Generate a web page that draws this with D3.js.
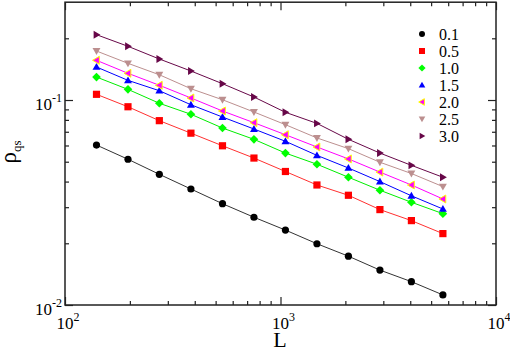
<!DOCTYPE html>
<html>
<head>
<meta charset="utf-8" />
<script src="https://cdnjs.cloudflare.com/ajax/libs/d3/7.8.5/d3.min.js"></script>
<style>
  body { margin: 0; background: #fff; }
  text { font-family: "Liberation Serif", "Times New Roman", serif; fill: #000; }
</style>
</head>
<body>
<svg id="chart" width="510" height="352"></svg>
<script>
  // system sizes L
  const sizes = [140, 196, 274, 384, 538, 753, 1054, 1476, 2066, 2893, 4050, 5670]
  const labels = ['0.1', '0.5', '1.0', '1.5', '2.0', '2.5', '3.0']
  const rho01 = [0.0603, 0.0514, 0.0434, 0.0368, 0.0312, 0.0268, 0.0232, 0.0199, 0.0173, 0.0148, 0.0130, 0.0112]
  const rho05 = [0.1066, 0.0927, 0.0793, 0.0689, 0.0598, 0.0521, 0.0448, 0.0385, 0.0343, 0.0292, 0.0258, 0.0223]
  const rho10 = [0.1294, 0.1127, 0.0964, 0.0852, 0.0730, 0.0643, 0.0551, 0.0486, 0.0420, 0.0363, 0.0317, 0.0279]
  const rho15 = [0.1449, 0.1247, 0.1110, 0.0948, 0.0826, 0.0722, 0.0629, 0.0537, 0.0466, 0.0400, 0.0341, 0.0294]
  const rho20 = [0.1562, 0.1350, 0.1180, 0.1023, 0.0884, 0.0775, 0.0677, 0.0590, 0.0516, 0.0445, 0.0385, 0.0329]
  const rho25 = [0.1734, 0.1510, 0.1328, 0.1135, 0.1003, 0.0874, 0.0758, 0.0653, 0.0579, 0.0497, 0.0438, 0.0378]
  const rho30 = [0.2083, 0.1828, 0.1585, 0.1385, 0.1201, 0.1034, 0.0871, 0.0769, 0.0643, 0.0551, 0.0480, 0.0420]
  const xMajor = [100, 1000, 10000]
  const yMajor = [0.01, 0.1]

  const series = [
    { name: labels[0], vals: rho01, color: '#000000', line: '#333333', sym: 'circle', stroke: 'none' },
    { name: labels[1], vals: rho05, color: '#ff0000', line: '#ff3030', sym: 'square', stroke: 'none' },
    { name: labels[2], vals: rho10, color: '#00ff00', line: '#00ee00', sym: 'diamond', stroke: 'none' },
    { name: labels[3], vals: rho15, color: '#0000ff', line: '#0000ff', sym: 'up', stroke: 'none' },
    { name: labels[4], vals: rho20, color: '#ff00ff', line: '#ff00ff', sym: 'left', stroke: '#ffff00' },
    { name: labels[5], vals: rho25, color: '#bc8f8f', line: '#bc8f8f', sym: 'down', stroke: 'none' },
    { name: labels[6], vals: rho30, color: '#670748', line: '#670748', sym: 'right', stroke: 'none' }
  ]

  const svg = d3.select('#chart')
  const x = d3.scaleLog().domain([100, 10000]).range([65, 496])
  const y = d3.scaleLog().domain([0.01, 0.3]).range([305, 2.2])

  // marker shapes, r = half size in px
  function symPath(type, r) {
    let p
    if (type === 'circle') return d3.symbol().type(d3.symbolCircle).size(Math.PI * r * r)()
    if (type === 'square') p = [[-r, -r], [r, -r], [r, r], [-r, r]]
    if (type === 'diamond') p = [[0, -r * 1.2], [r * 1.2, 0], [0, r * 1.2], [-r * 1.2, 0]]
    if (type === 'up') p = [[0, -r * 1.1], [r * 1.1, r * 0.8], [-r * 1.1, r * 0.8]]
    if (type === 'down') p = [[0, r * 1.1], [r * 1.1, -r * 0.8], [-r * 1.1, -r * 0.8]]
    if (type === 'left') p = [[-r * 1.1, 0], [r * 0.8, -r * 1.1], [r * 0.8, r * 1.1]]
    if (type === 'right') p = [[r * 1.1, 0], [-r * 0.8, -r * 1.1], [-r * 0.8, r * 1.1]]
    return 'M' + p.map(q => q.join(',')).join('L') + 'Z'
  }

  // minor ticks
  const xMinor = []
  ;[100, 1000].forEach(b => { for (let k = 2; k <= 9; k++) xMinor.push(b * k) })
  const yMinor = []
  ;[0.01, 0.1].forEach(b => { for (let k = 2; k <= 9; k++) if (b * k <= 0.3) yMinor.push(b * k) })

  const axisStyle = g => {
    g.select('.domain').remove()
    g.selectAll('text').remove()
    g.selectAll('line').attr('stroke', '#222').attr('stroke-width', 1.2)
  }
  svg.append('g').attr('transform', 'translate(0,305)').call(d3.axisBottom(x).tickValues(xMajor).tickSize(-8)).call(axisStyle)
  svg.append('g').attr('transform', 'translate(0,305)').call(d3.axisBottom(x).tickValues(xMinor).tickSize(-4)).call(axisStyle)
  svg.append('g').attr('transform', 'translate(0,2.2)').call(d3.axisTop(x).tickValues(xMajor).tickSize(-8)).call(axisStyle)
  svg.append('g').attr('transform', 'translate(0,2.2)').call(d3.axisTop(x).tickValues(xMinor).tickSize(-4)).call(axisStyle)
  svg.append('g').attr('transform', 'translate(65,0)').call(d3.axisLeft(y).tickValues(yMajor).tickSize(-8)).call(axisStyle)
  svg.append('g').attr('transform', 'translate(65,0)').call(d3.axisLeft(y).tickValues(yMinor).tickSize(-4)).call(axisStyle)
  svg.append('g').attr('transform', 'translate(496,0)').call(d3.axisRight(y).tickValues(yMajor).tickSize(-8)).call(axisStyle)
  svg.append('g').attr('transform', 'translate(496,0)').call(d3.axisRight(y).tickValues(yMinor).tickSize(-4)).call(axisStyle)

  svg.append('rect').attr('x', 65).attr('y', 2.2).attr('width', 431).attr('height', 305 - 2.2)
    .attr('fill', 'none').attr('stroke', '#222').attr('stroke-width', 1.5)

  // series lines and markers
  const line = d3.line().x((d, i) => x(sizes[i])).y(d => y(d))
  series.forEach(s => {
    svg.append('path').attr('d', line(s.vals)).attr('fill', 'none').attr('stroke', s.line).attr('stroke-width', 1)
  })
  series.forEach(s => {
    svg.append('g').selectAll('path').data(s.vals).enter().append('path')
      .attr('transform', (d, i) => 'translate(' + x(sizes[i]) + ',' + y(d) + ')')
      .attr('d', symPath(s.sym, 3.6))
      .attr('fill', s.color)
      .attr('stroke', s.stroke).attr('stroke-width', 1)
  })

  // tick labels
  const expLabel = (px, py, anchor, exp) => {
    const t = svg.append('text').attr('x', px).attr('y', py).attr('text-anchor', anchor).style('font-size', '17px')
    t.append('tspan').text('10')
    t.append('tspan').attr('dy', -8).style('font-size', '12px').text(exp)
  }
  xMajor.forEach(v => expLabel(x(v) - 8.5, 329, 'start', String(Math.round(Math.log10(v)))))
  yMajor.forEach(v => expLabel(62, y(v) + 10, 'end', String(Math.round(Math.log10(v)))))

  // axis titles
  svg.append('text').attr('x', 280).attr('y', 347).attr('text-anchor', 'middle').style('font-size', '22px').text('L')
  const yt = svg.append('text').attr('transform', 'translate(16,152) rotate(-90)').attr('text-anchor', 'middle')
    .style('font-size', '23px')
  yt.append('tspan').text('ρ')
  yt.append('tspan').attr('dy', 5).style('font-size', '13px').text('qs')

  // legend
  const leg = svg.append('g')
  series.forEach((s, i) => {
    const ly = 34 + i * 17
    leg.append('path').attr('transform', 'translate(422,' + ly + ')').attr('d', symPath(s.sym, 3))
      .attr('fill', s.color).attr('stroke', s.stroke).attr('stroke-width', 1)
    leg.append('text').attr('x', 439).attr('y', ly + 6).style('font-size', '16px').text(s.name)
  })
</script>
</body>
</html>
